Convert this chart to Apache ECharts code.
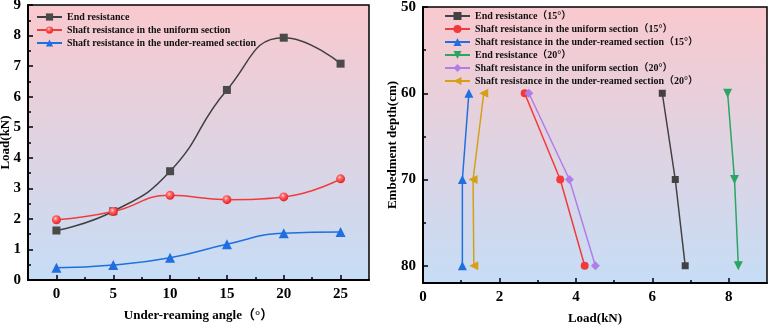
<!DOCTYPE html>
<html>
<head>
<meta charset="utf-8">
<script src="https://cdn.jsdelivr.net/npm/echarts@6/dist/echarts.min.js"></script>
<style>
  html, body { margin: 0; padding: 0; background: #fff; }
  #chart { width: 770px; height: 327px; }
</style>
</head>
<body>
<div id="chart"></div>
<script>
// left panel: load vs under-reaming angle
const angles = [0, 5, 10, 15, 20, 25]
const endRes = [1.62, 2.25, 3.56, 6.22, 7.93, 7.08]
const shaftUniform = [1.97, 2.24, 2.77, 2.63, 2.72, 3.31]
const shaftUnder = [0.40, 0.49, 0.73, 1.17, 1.53, 1.57]

// right panel: load vs embedment depth
const depths = [60, 70, 80]
const end15 = [6.26, 6.60, 6.86]
const uniform15 = [2.66, 3.59, 4.23]
const under15 = [1.20, 1.03, 1.03]
const end20 = [7.97, 8.15, 8.25]
const uniform20 = [2.77, 3.83, 4.51]
const under20 = [1.59, 1.31, 1.33]

const leftXTicks = [0, 5, 10, 15, 20, 25]
const leftXMinor = [2.5, 7.5, 12.5, 17.5, 22.5]
const leftYTicks = [0, 1, 2, 3, 4, 5, 6, 7, 8, 9]
const leftYMinor = [0.5, 1.5, 2.5, 3.5, 4.5, 5.5, 6.5, 7.5, 8.5]
const rightXTicks = [0, 2, 4, 6, 8]
const rightXMinor = [1, 3, 5, 7]
const rightYTicks = [50, 60, 70, 80]
const rightYMinor = [55, 65, 75]

const font = `'Liberation Serif', 'Times New Roman', 'Noto Sans CJK SC', serif`

const pair = (xs, ys) => xs.map((x, i) => [x, ys[i]])

const bg = new echarts.graphic.LinearGradient(0, 0, 0, 1, [
  { offset: 0, color: '#f9c9ce' },
  { offset: 1, color: '#c6ddf6' }
])

const ball = new echarts.graphic.RadialGradient(0.4, 0.35, 0.6, [
  { offset: 0, color: '#ffd6d6' },
  { offset: 0.35, color: '#ff6a6a' },
  { offset: 1, color: '#e8262a' }
])

const tickLine = { color: '#000', width: 1.5 }

function majorAxis (opt, ticks) {
  return Object.assign({
    type: 'value',
    axisLine: { show: true, onZero: false, lineStyle: { color: '#000', width: 2 } },
    axisTick: { show: true, inside: true, length: 5, customValues: ticks, lineStyle: tickLine },
    axisLabel: { color: '#000', fontSize: 15, fontWeight: 'bold', fontFamily: font, margin: 7, customValues: ticks },
    splitLine: { show: false },
    nameLocation: 'middle',
    nameMoveOverlap: false,
    nameTextStyle: { color: '#000', fontSize: 13, fontWeight: 'bold', fontFamily: font }
  }, opt)
}

function minorAxis (opt, ticks) {
  return Object.assign({
    type: 'value',
    axisLine: { show: false, onZero: false },
    axisTick: { show: true, inside: true, length: 3, customValues: ticks, lineStyle: tickLine },
    axisLabel: { show: false },
    splitLine: { show: false }
  }, opt)
}

const legendText = { color: '#111', fontSize: 10, fontWeight: 'bold', fontFamily: font }

const chart = echarts.init(document.getElementById('chart'))
chart.setOption({
  animation: false,
  grid: [
    { left: 28, top: 5, width: 341, height: 275, outerBoundsMode: 'none', show: true, backgroundColor: bg, borderColor: '#000', borderWidth: 1.5 },
    { left: 423, top: 7, width: 344, height: 276, outerBoundsMode: 'none', show: true, backgroundColor: bg, borderColor: '#000', borderWidth: 1.5 }
  ],
  legend: [
    {
      left: 31, top: 7, orient: 'vertical', itemWidth: 25, itemHeight: 9, itemGap: 3,
      textStyle: legendText,
      data: ['End resistance', 'Shaft resistance in the uniform section', 'Shaft resistance in the under-reamed section']
    },
    {
      left: 439, top: 6, orient: 'vertical', itemWidth: 25, itemHeight: 10, itemGap: 3,
      textStyle: legendText,
      data: ['End resistance（15°）', 'Shaft resistance in the uniform section（15°）', 'Shaft resistance in the under-reamed section（15°）',
        'End resistance（20°）', 'Shaft resistance in the uniform section（20°）', 'Shaft resistance in the under-reamed section（20°）']
    }
  ],
  xAxis: [
    majorAxis({ gridIndex: 0, position: 'bottom', min: -2.5, max: 27.5, name: 'Under-reaming angle（°）', nameGap: 29 }, leftXTicks),
    minorAxis({ gridIndex: 0, position: 'bottom', min: -2.5, max: 27.5 }, leftXMinor),
    majorAxis({ gridIndex: 1, position: 'bottom', min: 0, max: 9, name: 'Load(kN)', nameGap: 29 }, rightXTicks),
    minorAxis({ gridIndex: 1, position: 'bottom', min: 0, max: 9 }, rightXMinor)
  ],
  yAxis: [
    majorAxis({ gridIndex: 0, position: 'left', min: 0, max: 9, name: 'Load(kN)', nameGap: 16 }, leftYTicks),
    minorAxis({ gridIndex: 0, position: 'left', min: 0, max: 9 }, leftYMinor),
    majorAxis({ gridIndex: 1, position: 'left', min: 50, max: 82, inverse: true, name: 'Embedment depth(cm)', nameGap: 24 }, rightYTicks),
    minorAxis({ gridIndex: 1, position: 'left', min: 50, max: 82, inverse: true }, rightYMinor)
  ],
  series: [
    {
      name: 'End resistance', type: 'line', xAxisIndex: 0, yAxisIndex: 0, smooth: 0.5,
      symbol: 'rect', symbolSize: 8, data: pair(angles, endRes),
      lineStyle: { color: '#404040', width: 1.5 }, itemStyle: { color: '#4a4a4a' }
    },
    {
      name: 'Shaft resistance in the uniform section', type: 'line', xAxisIndex: 0, yAxisIndex: 0, smooth: 0.5,
      symbol: 'circle', symbolSize: 9, data: pair(angles, shaftUniform),
      lineStyle: { color: '#f23a3a', width: 1.5 }, itemStyle: { color: ball }
    },
    {
      name: 'Shaft resistance in the under-reamed section', type: 'line', xAxisIndex: 0, yAxisIndex: 0, smooth: 0.5,
      symbol: 'triangle', symbolSize: 10, data: pair(angles, shaftUnder),
      lineStyle: { color: '#1f6fe0', width: 1.5 }, itemStyle: { color: '#1f6fe0' }
    },
    {
      name: 'End resistance（15°）', type: 'line', xAxisIndex: 2, yAxisIndex: 2,
      symbol: 'rect', symbolSize: 7, data: pair(end15, depths),
      lineStyle: { color: '#424242', width: 1.5 }, itemStyle: { color: '#424242' }
    },
    {
      name: 'Shaft resistance in the uniform section（15°）', type: 'line', xAxisIndex: 2, yAxisIndex: 2,
      symbol: 'circle', symbolSize: 8, data: pair(uniform15, depths),
      lineStyle: { color: '#f23a3a', width: 1.5 }, itemStyle: { color: '#f23a3a' }
    },
    {
      name: 'Shaft resistance in the under-reamed section（15°）', type: 'line', xAxisIndex: 2, yAxisIndex: 2,
      symbol: 'triangle', symbolSize: 9, data: pair(under15, depths),
      lineStyle: { color: '#1f6fe0', width: 1.5 }, itemStyle: { color: '#1f6fe0' }
    },
    {
      name: 'End resistance（20°）', type: 'line', xAxisIndex: 2, yAxisIndex: 2,
      symbol: 'triangle', symbolRotate: 180, symbolSize: 9, data: pair(end20, depths),
      lineStyle: { color: '#2ba562', width: 1.5 }, itemStyle: { color: '#2ba562' }
    },
    {
      name: 'Shaft resistance in the uniform section（20°）', type: 'line', xAxisIndex: 2, yAxisIndex: 2,
      symbol: 'diamond', symbolSize: 9, data: pair(uniform20, depths),
      lineStyle: { color: '#b07ee8', width: 1.5 }, itemStyle: { color: '#b07ee8' }
    },
    {
      name: 'Shaft resistance in the under-reamed section（20°）', type: 'line', xAxisIndex: 2, yAxisIndex: 2,
      symbol: 'triangle', symbolRotate: 90, symbolSize: 9, data: pair(under20, depths),
      lineStyle: { color: '#d4a015', width: 1.5 }, itemStyle: { color: '#d4a015' }
    }
  ]
})
</script>
</body>
</html>
